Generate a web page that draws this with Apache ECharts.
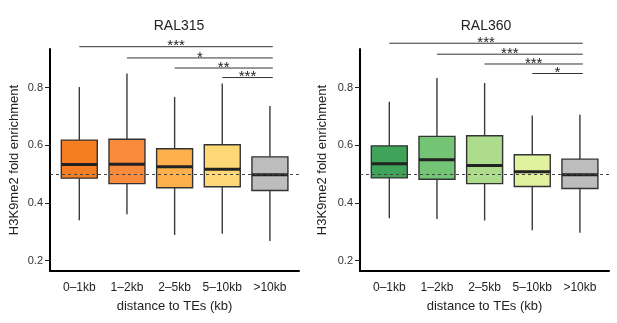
<!DOCTYPE html>
<html>
<head>
<meta charset="utf-8">
<script src="https://cdn.jsdelivr.net/npm/echarts@6/dist/echarts.min.js"></script>
<style>
  html, body { margin: 0; padding: 0; background: #fff; }
  #chart { width: 617px; height: 323px; }
</style>
</head>
<body>
<div id="chart"></div>
<script>
// categories and tick labels
const categories = ['0–1kb', '1–2kb', '2–5kb', '5–10kb', '>10kb']
const yTicks = [0.2, 0.4, 0.6, 0.8]
const baseline = 0.498

// RAL315 box stats
const ral315Low = [0.340, 0.361, 0.289, 0.293, 0.268]
const ral315Q1 = [0.486, 0.467, 0.453, 0.456, 0.443]
const ral315Median = [0.533, 0.534, 0.526, 0.517, 0.498]
const ral315Q3 = [0.618, 0.621, 0.588, 0.602, 0.560]
const ral315High = [0.802, 0.849, 0.768, 0.814, 0.736]

// RAL360 box stats
const ral360Low = [0.347, 0.344, 0.339, 0.305, 0.297]
const ral360Q1 = [0.487, 0.482, 0.467, 0.457, 0.450]
const ral360Median = [0.536, 0.550, 0.530, 0.508, 0.498]
const ral360Q3 = [0.598, 0.631, 0.633, 0.567, 0.552]
const ral360High = [0.751, 0.833, 0.816, 0.703, 0.706]

// significance brackets: each category vs '>10kb'
const sigFrom = [0, 1, 2, 3]
const ral315SigLevel = [0.942, 0.903, 0.868, 0.835]
const ral315SigText = ['***', '*', '**', '***']
const ral360SigLevel = [0.954, 0.916, 0.882, 0.849]
const ral360SigText = ['***', '***', '***', '*']

const orangeColors = ['#f57d22', '#f98b3c', '#fdb04c', '#fed877', '#bdbdbd']
const greenColors = ['#3fa35a', '#74c476', '#acdc8c', '#e1f29f', '#bdbdbd']

const FONT = 'Liberation Sans, Arial, sans-serif'

const chart = echarts.init(document.getElementById('chart'))

const boxData = (low, q1, med, q3, high) =>
  categories.map((c, i) => [i, low[i], q1[i], med[i], q3[i], high[i]])

const boxRender = colors => (params, api) => {
  const i = api.value(0)
  const top = api.coord([i, api.value(5)])
  const bottom = api.coord([i, api.value(1)])
  const q3 = api.coord([i, api.value(4)])
  const q1 = api.coord([i, api.value(2)])
  const med = api.coord([i, api.value(3)])
  const w = api.size([0.755, 0])[0]
  const x0 = top[0] - w / 2
  return {
    type: 'group',
    children: [
      { type: 'line', shape: { x1: top[0], y1: top[1], x2: top[0], y2: q3[1] },
        style: { stroke: '#3a3a3a', lineWidth: 1.4 } },
      { type: 'line', shape: { x1: top[0], y1: q1[1], x2: top[0], y2: bottom[1] },
        style: { stroke: '#3a3a3a', lineWidth: 1.4 } },
      { type: 'rect', shape: { x: x0, y: q3[1], width: w, height: q1[1] - q3[1] },
        style: { fill: colors[i], stroke: '#333', lineWidth: 1.4 } },
      { type: 'line', shape: { x1: x0, y1: med[1], x2: x0 + w, y2: med[1] },
        style: { stroke: '#222', lineWidth: 3 } }
    ]
  }
}

const sigData = (levels, texts) => sigFrom.map((s, k) => [s, 4.06, levels[k], texts[k]])

const sigRender = (params, api) => {
  const p1 = api.coord([api.value(0), api.value(2)])
  const p2 = api.coord([api.value(1), api.value(2)])
  return {
    type: 'group',
    children: [
      { type: 'line', shape: { x1: p1[0], y1: p1[1], x2: p2[0], y2: p2[1] },
        style: { stroke: '#333', lineWidth: 1 } },
      { type: 'text', x: (p1[0] + p2[0]) / 2, y: p1[1] + 7,
        style: { text: api.value(3), fill: '#222', font: '15px ' + FONT,
                 align: 'center', verticalAlign: 'bottom' } }
    ]
  }
}

const makeX = idx => ({
  type: 'value', gridIndex: idx, min: -0.615, max: 4.61,
  name: 'distance to TEs (kb)', nameLocation: 'middle', nameGap: 29,
  nameTextStyle: { fontFamily: FONT, fontSize: 13, color: '#222' },
  splitLine: { show: false },
  axisLine: { show: true, onZero: false, lineStyle: { color: '#000', width: 2 } },
  axisTick: { show: false },
  axisLabel: { customValues: [0, 1, 2, 3, 4], formatter: v => categories[Math.round(v)],
               fontFamily: FONT, fontSize: 12, color: '#222', margin: 11 }
})

const makeY = (idx, gap) => ({
  type: 'value', gridIndex: idx, min: 0.164, max: 0.934,
  name: 'H3K9me2 fold enrichment', nameLocation: 'middle', nameGap: gap,
  nameTextStyle: { fontFamily: FONT, fontSize: 13, color: '#222' },
  splitLine: { show: false },
  axisLine: { show: true, onZero: false, lineStyle: { color: '#000', width: 2 } },
  axisTick: { show: true, length: 5, customValues: yTicks, lineStyle: { color: '#222', width: 1 } },
  axisLabel: { customValues: yTicks, formatter: v => v.toFixed(1),
               fontFamily: FONT, fontSize: 11, color: '#333', margin: 7 }
})

const baseLine = {
  silent: true, symbol: 'none', label: { show: false },
  lineStyle: { type: [3, 3], color: '#444', width: 1 },
  data: [{ yAxis: baseline }]
}

chart.setOption({
  animation: false,
  title: [
    { text: 'RAL315', left: 174, top: 14, textAlign: 'center',
      textStyle: { fontFamily: FONT, fontSize: 14, fontWeight: 'normal', color: '#222' } },
    { text: 'RAL360', left: 481, top: 14, textAlign: 'center',
      textStyle: { fontFamily: FONT, fontSize: 14, fontWeight: 'normal', color: '#222' } }
  ],
  grid: [
    { left: 50, top: 49, width: 249, height: 222 },
    { left: 360, top: 49, width: 249, height: 222 }
  ],
  xAxis: [makeX(0), makeX(1)],
  yAxis: [makeY(0, 29), makeY(1, 31)],
  series: [
    { type: 'custom', xAxisIndex: 0, yAxisIndex: 0, renderItem: boxRender(orangeColors),
      data: boxData(ral315Low, ral315Q1, ral315Median, ral315Q3, ral315High),
      encode: { x: 0, y: [1, 2, 3, 4, 5] }, markLine: baseLine },
    { type: 'custom', xAxisIndex: 1, yAxisIndex: 1, renderItem: boxRender(greenColors),
      data: boxData(ral360Low, ral360Q1, ral360Median, ral360Q3, ral360High),
      encode: { x: 0, y: [1, 2, 3, 4, 5] }, markLine: baseLine },
    { type: 'custom', xAxisIndex: 0, yAxisIndex: 0, clip: false, renderItem: sigRender,
      data: sigData(ral315SigLevel, ral315SigText), encode: { x: [0, 1], y: 2 } },
    { type: 'custom', xAxisIndex: 1, yAxisIndex: 1, clip: false, renderItem: sigRender,
      data: sigData(ral360SigLevel, ral360SigText), encode: { x: [0, 1], y: 2 } }
  ]
})
</script>
</body>
</html>
